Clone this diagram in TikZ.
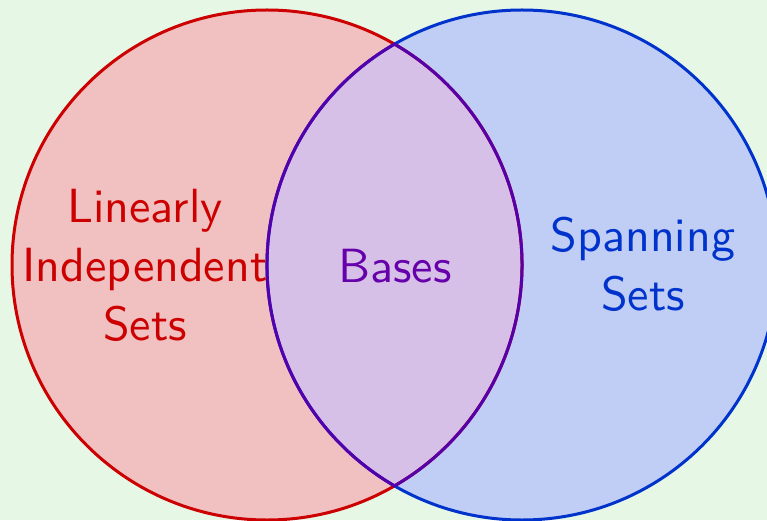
\documentclass[tikz,border=0pt]{standalone}
\usepackage{tikz}
\definecolor{bgg}{RGB}{230,247,230}
\definecolor{redfill}{RGB}{241,192,192}
\definecolor{bluefill}{RGB}{192,205,245}
\definecolor{purplefill}{RGB}{215,192,232}
\definecolor{redline}{RGB}{204,0,0}
\definecolor{blueline}{RGB}{0,51,204}
\definecolor{purpleline}{RGB}{85,0,170}
\definecolor{purpletext}{RGB}{102,0,170}
\tikzset{
  lbl/.style={font=\sffamily\fontsize{10}{12.3}\selectfont, align=center, inner sep=0pt, scale=4.8},
  ring/.style={line width=3pt}
}
\begin{document}
\begin{tikzpicture}[x=1pt,y=1pt]
\fill[bgg] (0,0) rectangle (767,520);
\useasboundingbox (0,0) rectangle (767,520);
\coordinate (cl) at (267,255);
\coordinate (cr) at (522,255);
\fill[redfill] (cl) circle[radius=255];
\fill[bluefill] (cr) circle[radius=255];
\begin{scope}
  \clip (cl) circle[radius=255];
  \fill[purplefill] (cr) circle[radius=255];
\end{scope}
\draw[ring, redline] (cl) circle[radius=255];
\draw[ring, blueline] (cr) circle[radius=255];
\coordinate (top) at (394.5,475.84);
\draw[ring, purpleline] (top) arc[start angle=120, end angle=240, radius=255]
  arc[start angle=-60, end angle=60, radius=255] -- cycle;
\node[lbl, text=redline] (lin) at (145,254.5) {Linearly\\Independent\\Sets};
\node[lbl, text=purpletext] (bas) at (395,254) {Bases};
\node[lbl, text=blueline] (spa) at (643,255.5) {Spanning\\Sets};
\end{tikzpicture}
\end{document}
